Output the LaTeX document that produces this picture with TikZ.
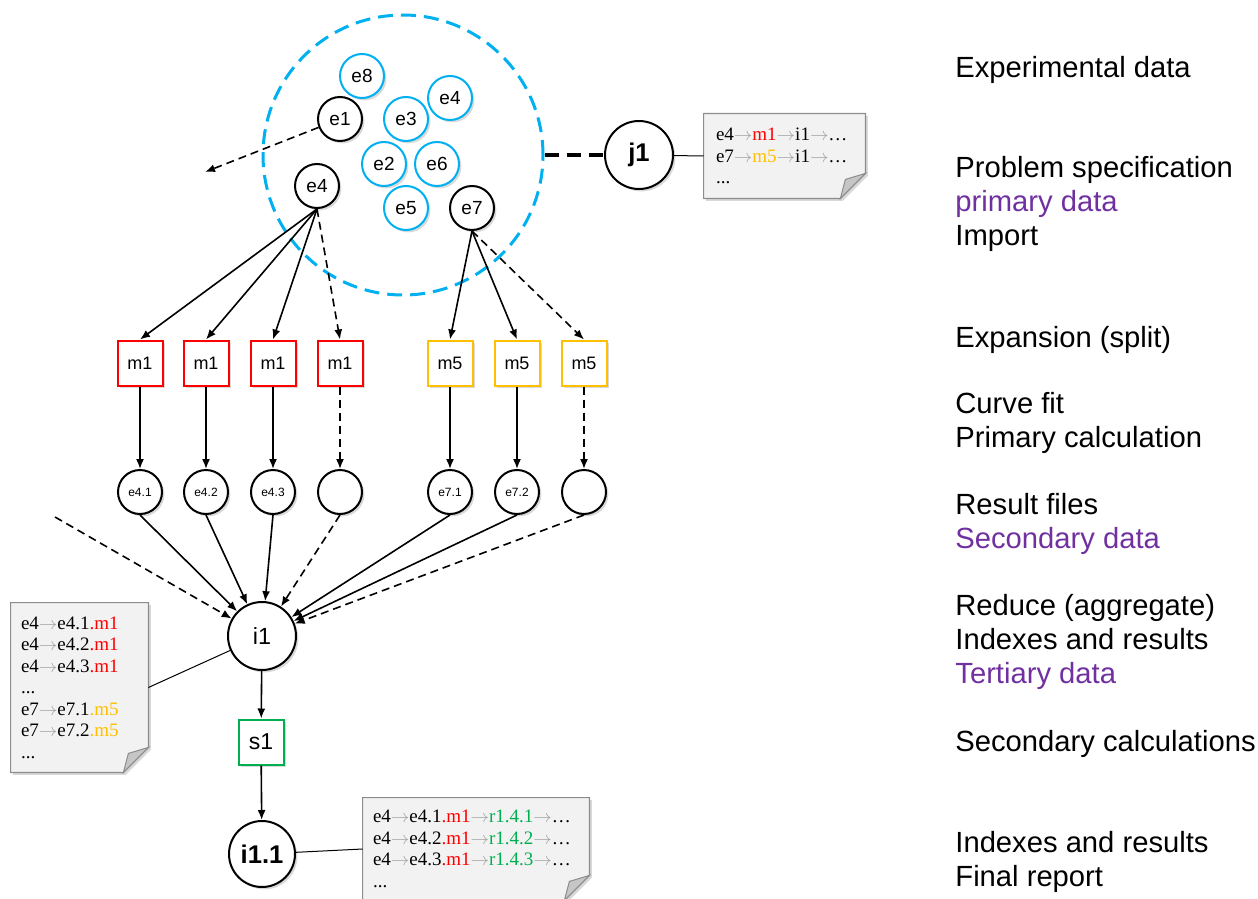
\documentclass[tikz,border=0pt]{standalone}
\usepackage{fontspec}
\setmainfont{Liberation Sans}
\newfontfamily\notefont{Liberation Serif}
\usetikzlibrary{arrows.meta, shadows, calc, backgrounds}
\usepackage{xcolor}
\definecolor{exblue}{HTML}{00B0F0}
\definecolor{mred}{HTML}{FF0000}
\definecolor{mgold}{HTML}{FFC000}
\definecolor{sgreen}{HTML}{00B050}
\definecolor{dpurple}{HTML}{7030A0}
\definecolor{notefill}{HTML}{F2F2F2}
\definecolor{noteline}{HTML}{8C8C8C}
\definecolor{arrowgray}{HTML}{A6A6A6}

\newcommand{\garr}{{\color{arrowgray}$\rightarrow$}}
% paper note with folded corner around a node
\newcommand{\dognote}[1]{%
  \begin{pgfonlayer}{background}
    \draw[notebox] (#1.north west) -- (#1.north east) -- ($(#1.south east)+(0,12.5pt)$)
      -- ($(#1.south east)+(-12.5pt,0)$) -- (#1.south west) -- cycle;
    \filldraw[fill=gray!45, draw=noteline, line width=0.5pt] ($(#1.south east)+(0,12.5pt)$)
      -- ($(#1.south east)+(-10pt,9.5pt)$) -- ($(#1.south east)+(-12.5pt,0)$) -- cycle;
  \end{pgfonlayer}}

\begin{document}
\begin{tikzpicture}[x=0.5pt, y=-0.5pt,
    softshadow/.style={drop shadow={shadow xshift=1.2pt, shadow yshift=-1.2pt, opacity=0.3}},
    expnode/.style={circle, draw, line width=1pt, minimum size=22pt, inner sep=0pt,
      fill=white, softshadow, font=\fontsize{9.5}{11}\selectfont},
    poolnode/.style={expnode, draw=exblue},
    mbox/.style={rectangle, line width=1pt, minimum size=22.5pt, inner sep=0pt,
      fill=white, softshadow, font=\fontsize{9}{11}\selectfont},
    resnode/.style={expnode, font=\fontsize{6}{7}\selectfont},
    idxnode/.style={expnode, minimum size=34pt, font=\fontsize{11.7}{13}\selectfont},
    notebox/.style={fill=notefill, draw=noteline, line width=0.6pt, softshadow},
    notetext/.style={align=left, inner sep=0pt, font=\notefont\fontsize{9.5}{10.75}\selectfont},
    link/.style={-{Latex[length=5pt,width=4pt]}, line width=0.8pt},
    dlink/.style={link, dash pattern=on 4pt off 2.5pt},
    thin link/.style={line width=0.5pt},
    stage/.style={anchor=west, align=left, inner sep=0pt, font=\fontsize{14.6}{17.2}\selectfont}]
    \useasboundingbox (0,0) rectangle (1258,899);

    % experimental data pool
    \node[circle, draw=exblue, line width=1.5pt, dash pattern=on 7.5pt off 4pt,
      minimum size=140pt] (exp) at (403,155) {};
    \node[poolnode] (e8) at (362,76) {e8};
    \node[poolnode] (e4b) at (450,98) {e4};
    \node[poolnode] (e3) at (406,119) {e3};
    \node[poolnode] (e2) at (384,164) {e2};
    \node[poolnode] (e6) at (437,164) {e6};
    \node[poolnode] (e5) at (406,208) {e5};
    \node[expnode] (e1) at (340,119) {e1};
    \node[expnode] (e4) at (317,186) {e4};
    \node[expnode] (e7) at (472,208) {e7};
    \coordinate (lost) at (205,172);
    \draw[dlink] (e1) -- (lost);

    % problem specification
    \node[expnode, minimum size=34pt, font=\bfseries\fontsize{12.8}{14}\selectfont] (j1) at (639,155) {j1};
    \draw[line width=1.5pt, dash pattern=on 7pt off 4pt] (exp) -- (j1);
    \node[notetext, minimum width=80.5pt, minimum height=42pt, text width=68.5pt] (nj) at (784.5,156) {%
      e4\garr\textcolor{mred}{m1}\garr i1\garr…\\
      e7\garr\textcolor{mgold}{m5}\garr i1\garr…\\
      ...};
    \dognote{nj}
    \draw[thin link] (j1) -- (nj.west);

    % expansion into methods and result files
    \foreach \i/\x/\t in {1/140/e4.1, 2/206/e4.2, 3/273/e4.3, 4/340/{}} {
        \node[mbox, draw=mred] (ma\i) at (\x,363) {m1};
        \node[resnode] (ra\i) at (\x,492) {\t};
    }
    \foreach \i/\x/\t in {1/450/e7.1, 2/517/e7.2, 3/584/{}} {
        \node[mbox, draw=mgold] (mb\i) at (\x,363) {m5};
        \node[resnode] (rb\i) at (\x,492) {\t};
    }
    \foreach \i in {1,2,3} {
        \draw[link] (e4.south) -- (ma\i.north);
        \draw[link] (ma\i) -- (ra\i);
    }
    \draw[dlink] (e4.south) -- (ma4.north);
    \draw[dlink] (ma4) -- (ra4);
    \foreach \i in {1,2} {
        \draw[link] (e7.south) -- (mb\i.north);
        \draw[link] (mb\i) -- (rb\i);
    }
    \draw[dlink] (e7.south) -- (mb3.north);
    \draw[dlink] (mb3) -- (rb3);

    % reduce
    \node[idxnode] (i1) at (262,636) {i1};
    \coordinate (other) at (55,517);
    \draw[dlink] (other) -- (i1);
    \foreach \i in {1,2,3} { \draw[link] (ra\i.south) -- (i1); }
    \draw[dlink] (ra4.south) -- (i1);
    \foreach \i in {1,2} { \draw[link] (rb\i.south) -- (i1); }
    \draw[dlink] (rb3.south) -- (i1);
    \node[notetext, minimum width=68.5pt, minimum height=84.5pt, text width=58.5pt] (ni) at (79.5,687.5) {%
      e4\garr e4.1\textcolor{mred}{.m1}\\
      e4\garr e4.2\textcolor{mred}{.m1}\\
      e4\garr e4.3\textcolor{mred}{.m1}\\
      ...\\
      e7\garr e7.1\textcolor{mgold}{.m5}\\
      e7\garr e7.2\textcolor{mgold}{.m5}\\
      ...};
    \dognote{ni}
    \draw[thin link] (i1) -- (ni.east);

    % secondary calculations and final report
    \node[mbox, draw=sgreen, font=\fontsize{11.5}{13}\selectfont] (s1) at (261,742) {s1};
    \node[idxnode, minimum size=33pt, font=\bfseries\fontsize{12.8}{14}\selectfont] (i11) at (262,854) {i1.1};
    \draw[link] (i1) -- (s1);
    \draw[link] (s1) -- (i11);
    \node[notetext, minimum width=113pt, minimum height=51pt, text width=103pt] (nf) at (476,849) {%
      e4\garr e4.1\textcolor{mred}{.m1}\garr\textcolor{sgreen}{r1.4.1}\garr…\\
      e4\garr e4.2\textcolor{mred}{.m1}\garr\textcolor{sgreen}{r1.4.2}\garr…\\
      e4\garr e4.3\textcolor{mred}{.m1}\garr\textcolor{sgreen}{r1.4.3}\garr…\\
      ...};
    \dognote{nf}
    \draw[thin link] (i11) -- (nf.west);

    % stages
    \node[stage] (st1) at (955,70) {Experimental data};
    \node[stage] (st2) at (955,204) {Problem specification\\\textcolor{dpurple}{primary data}\\Import};
    \node[stage] (st3) at (955,340) {Expansion (split)};
    \node[stage] (st4) at (955,423) {Curve fit\\Primary calculation};
    \node[stage] (st5) at (955,524) {Result files\\\textcolor{dpurple}{Secondary data}};
    \node[stage] (st6) at (955,642) {Reduce (aggregate)\\Indexes and results\\\textcolor{dpurple}{Tertiary data}};
    \node[stage] (st7) at (955,744) {Secondary calculations};
    \node[stage] (st8) at (955,862) {Indexes and results\\Final report};
\end{tikzpicture}
\end{document}
